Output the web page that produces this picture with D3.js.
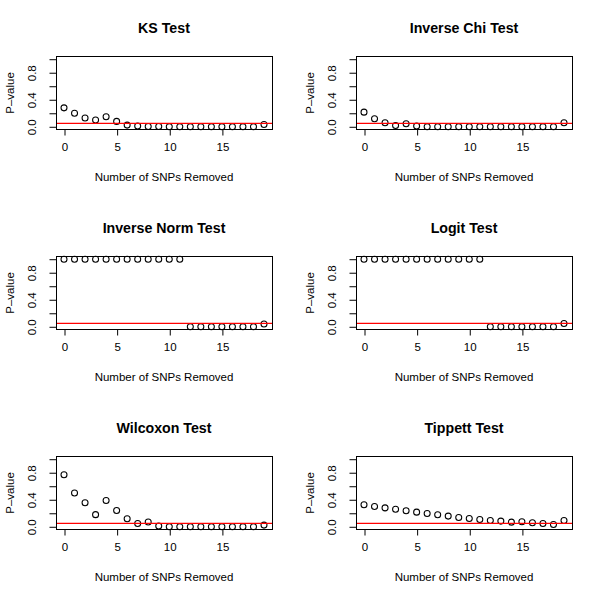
<!DOCTYPE html>
<html><head><meta charset="utf-8">
<script src="https://cdn.jsdelivr.net/npm/d3@7"></script>
<style>body{margin:0;background:#fff}svg{display:block}text{font-family:"Liberation Sans",Arial,Helvetica,sans-serif}</style>
</head><body><svg id="c" width="600" height="600"></svg>
<script>
const snpsRemoved = d3.range(0, 20);
const titles = ["KS Test","Inverse Chi Test","Inverse Norm Test","Logit Test","Wilcoxon Test","Tippett Test"];
const ksP = [0.28,0.20,0.13,0.10,0.15,0.08,0.025,0.01,0.005,0.003,0.002,0.002,0.001,0.001,0.001,0.001,0.001,0.001,0.001,0.035];
const invChiP = [0.217,0.12,0.06,0.02,0.045,0.01,0.002,0.001,0.001,0.001,0.001,0.001,0.001,0.001,0.001,0.001,0.001,0.001,0.001,0.06];
const invNormP = [1,1,1,1,1,1,1,1,1,1,1,1,0.001,0.001,0.001,0.001,0.001,0.001,0.001,0.04];
const logitP = [1,1,1,1,1,1,1,1,1,1,1,1,0.001,0.001,0.001,0.001,0.001,0.001,0.001,0.05];
const wilcoxonP = [0.77,0.50,0.355,0.18,0.39,0.24,0.12,0.05,0.07,0.01,0.002,0.001,0.001,0.001,0.001,0.001,0.001,0.001,0.001,0.025];
const tippettP = [0.325,0.30,0.28,0.26,0.236,0.217,0.197,0.177,0.158,0.138,0.123,0.108,0.094,0.084,0.069,0.074,0.06,0.05,0.035,0.094];
const seriesList = [ksP, invChiP, invNormP, logitP, wilcoxonP, tippettP];
const xTicks = [0,5,10,15];
const yTicks = [0,0.2,0.4,0.6,0.8,1.0];
const yTickLabels = ["0.0","","0.4","","0.8",""];
const threshold = 0.05;
const xLabel = "Number of SNPs Removed";
const yLabel = "P\u2013value";

const svg = d3.select("#c");
const L = 56, R = 272, T = 56.5, B = 129.5;
const x = d3.scaleLinear().domain([-0.76, 19.76]).range([L, R]);
const y = d3.scaleLinear().domain([-0.04, 1.04]).range([B, T]);

seriesList.forEach((vals, i) => {
  const col = i % 2, row = Math.floor(i / 2);
  const g = svg.append("g").attr("transform", `translate(${col*300},${row*200})`);
  g.append("text").attr("x", (L+R)/2).attr("y", 33).attr("text-anchor","middle")
    .attr("font-size", 14.2).attr("font-weight","bold").text(titles[i]);
  g.selectAll("circle.pt").data(snpsRemoved).join("circle").attr("class","pt")
    .attr("cx", d => x(d)).attr("cy", (d, j) => y(vals[j])).attr("r", 3)
    .attr("fill","none").attr("stroke","#000").attr("stroke-width",1.05);
  const ty = y(threshold);
  g.append("line").attr("x1", L+1).attr("x2", R).attr("y1", ty).attr("y2", ty)
    .style("stroke", "rgb(255,0,0)").style("stroke-width", "1.4px");
  g.append("rect").attr("x", L+0.5).attr("y", T).attr("width", R-L).attr("height", B-T)
    .attr("fill","none").attr("stroke","#000").attr("stroke-width",1);
  const xa = g.append("g").attr("transform", `translate(0.5,${B})`)
    .call(d3.axisBottom(x).tickValues(xTicks).tickSize(6).tickPadding(7).tickFormat(d3.format("d")));
  xa.select(".domain").attr("d", `M${x(0)},0H${x(15)}`);
  xa.selectAll("text").attr("font-size", 11.5).attr("font-family", null);
  const ya = g.append("g").attr("transform", `translate(${L+0.5},0)`)
    .call(d3.axisLeft(y).tickValues(yTicks).tickSize(7).tickFormat((d, k) => yTickLabels[k]));
  ya.select(".domain").attr("d", `M0,${y(0)}V${y(1)}`);
  ya.selectAll(".tick text").attr("font-size", 11.5).attr("font-family", null)
    .attr("text-anchor","middle").attr("x", 0).attr("dy", null).attr("y", 0)
    .attr("dominant-baseline","central")
    .attr("transform", "translate(-25,0) rotate(-90)");
  g.append("text").attr("x", (L+R)/2).attr("y", 181).attr("text-anchor","middle")
    .attr("font-size", 11.5).text(xLabel);
  g.append("text").attr("transform", `translate(10,${(T+B)/2}) rotate(-90)`)
    .attr("text-anchor","middle").attr("dominant-baseline","central")
    .attr("font-size", 11.5).text(yLabel);
});
</script></body></html>
